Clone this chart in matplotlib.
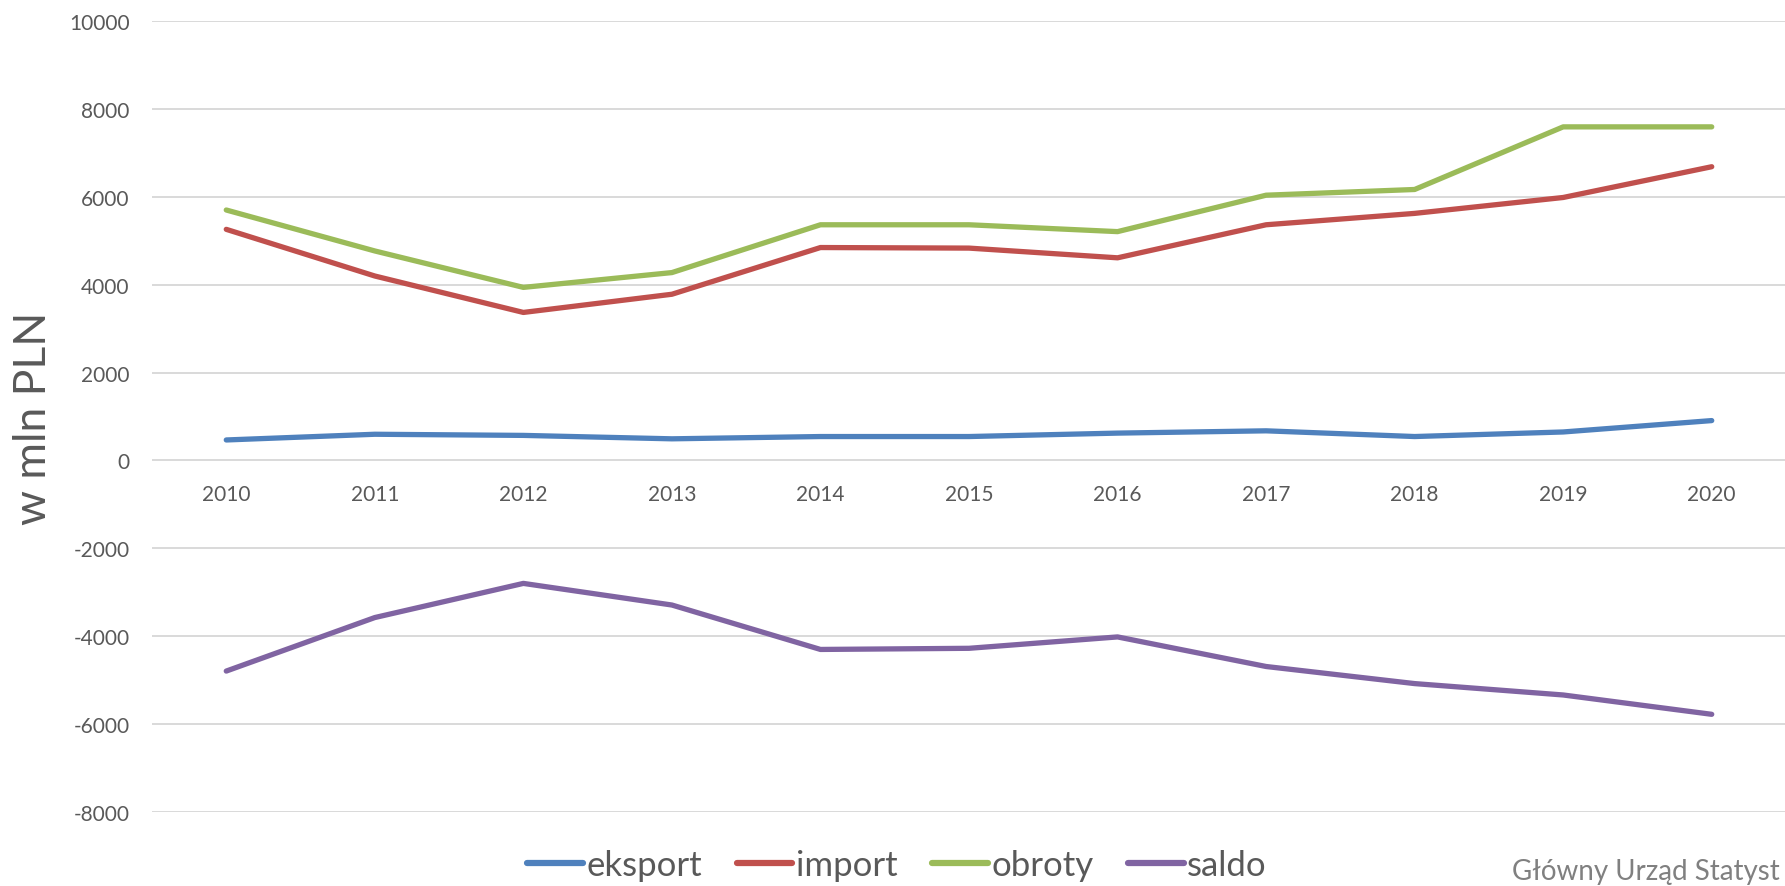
import matplotlib.pyplot as plt

plt.rcParams['font.family'] = ['Lato', 'DejaVu Sans']
plt.rcParams['axes.unicode_minus'] = False

years = ['2010', '2011', '2012', '2013', '2014', '2015', '2016', '2017', '2018', '2019', '2020']
eksport = [466, 596, 570, 492, 544, 544, 622, 674, 544, 648, 907]
import_ = [5259, 4197, 3368, 3782, 4845, 4832, 4611, 5363, 5622, 5984, 6684]
obroty = [5699, 4767, 3938, 4275, 5363, 5363, 5207, 6036, 6166, 7591, 7591]
saldo = [-4793, -3575, -2798, -3290, -4301, -4275, -4016, -4689, -5078, -5337, -5777]

series = [
    ('eksport', eksport, '#4F81BD'),
    ('import', import_, '#C0504D'),
    ('obroty', obroty, '#9BBB59'),
    ('saldo', saldo, '#8064A2'),
]

fig = plt.figure(figsize=(17.85, 8.87), dpi=100)
ax = fig.add_axes([152 / 1785, 74 / 887, 1634 / 1785, 791 / 887])

x = list(range(len(years)))
for name, vals, col in series:
    ax.plot(x, vals, color=col, linewidth=3.8, solid_capstyle='round',
            solid_joinstyle='round', label=name)

ax.set_xlim(-0.5, 10.5)
ax.set_ylim(-8000, 10000)
ax.set_yticks(range(-8000, 10001, 2000))
ax.set_xticks(x)
ax.set_xticklabels(years)

ax.grid(axis='y', color='#D9D9D9', linewidth=1.4)
ax.set_axisbelow(True)
for s in ax.spines.values():
    s.set_visible(False)
ax.spines['bottom'].set_position(('data', 0))

ax.tick_params(axis='y', length=0, pad=16, labelsize=15, labelcolor='#595959')
ax.tick_params(axis='x', length=0, pad=17, labelsize=15, labelcolor='#595959')

fig.text(33 / 1785, 1 - 418 / 887, 'w mln PLN', rotation=90, ha='center', va='center',
         fontsize=32, color='#595959')

leg = fig.legend(loc='center', bbox_to_anchor=(897 / 1785, 1 - 866 / 887), ncol=4,
                 frameon=False, fontsize=25, handlelength=1.6, handletextpad=0.1,
                 columnspacing=1.0, borderaxespad=0)
for t in leg.get_texts():
    t.set_color('#595959')
for h in leg.get_lines():
    h.set_linewidth(4.5)

fig.text(1512 / 1785, 1 - 880 / 887, 'Główny Urząd Statyst', ha='left', va='baseline',
         fontsize=20, color='#808080')

plt.savefig('out.png', dpi=100)
